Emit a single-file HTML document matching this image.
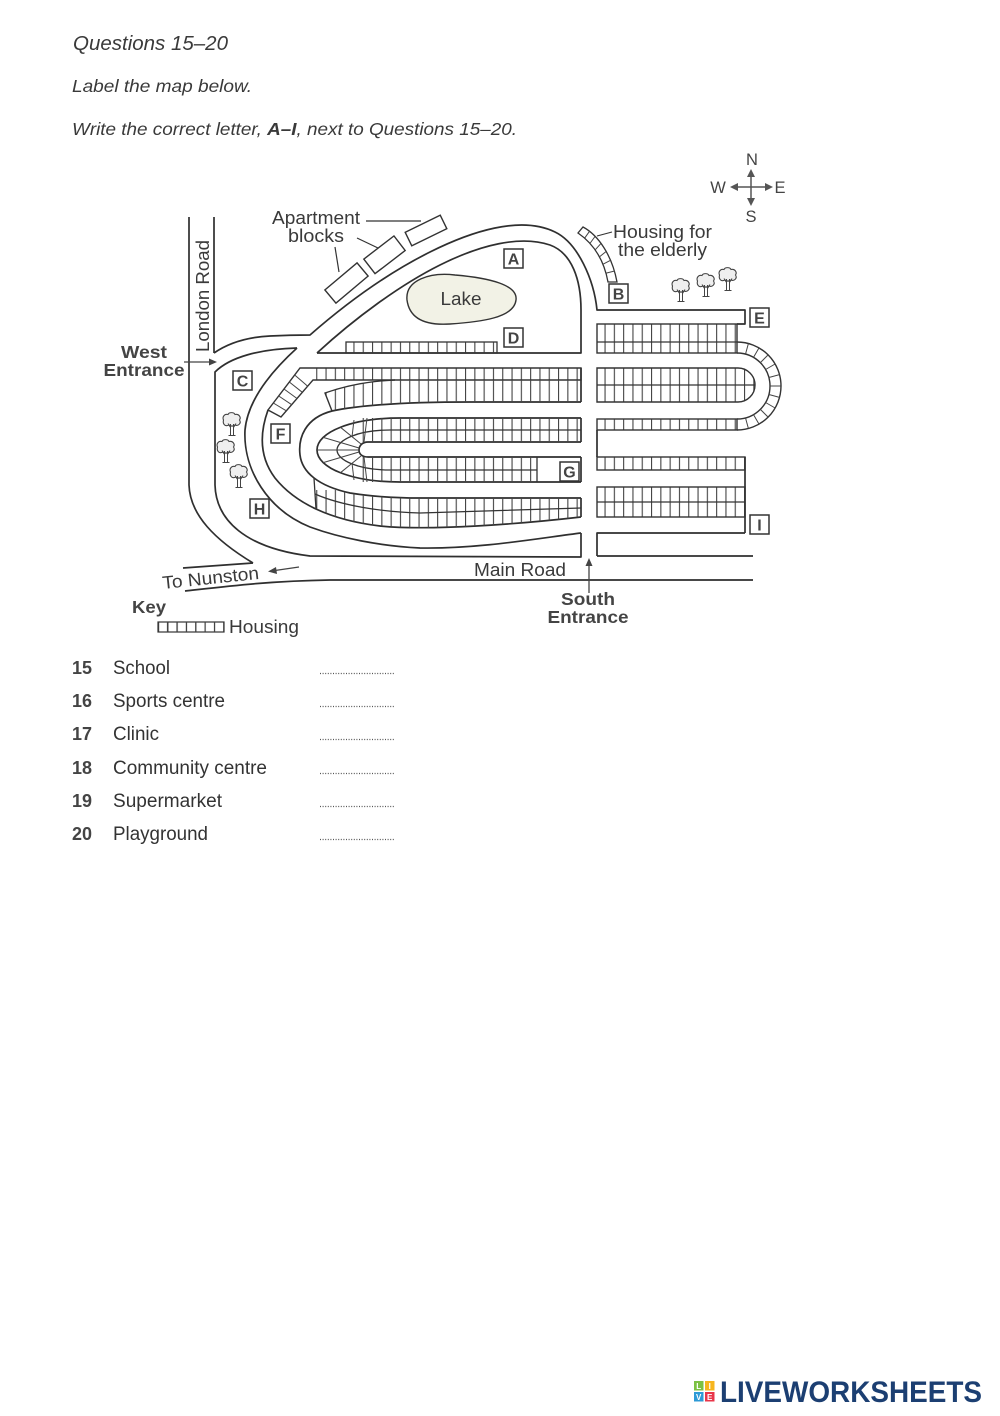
<!DOCTYPE html>
<html><head><meta charset="utf-8"><style>
html,body{margin:0;padding:0;background:#fff;}
svg{display:block;}
text{font-family:"Liberation Sans",Arial,sans-serif;}
</style></head><body>
<svg width="1000" height="1416" viewBox="0 0 1000 1416" xmlns="http://www.w3.org/2000/svg">
<defs>
 <pattern id="cv" patternUnits="userSpaceOnUse" width="9.3" height="40">
  <rect x="0" y="0" width="1.1" height="40" fill="#444"/>
 </pattern>
 <clipPath id="cB2"><path d="M581,380 L395,380 C370,381 345,386 325,393 L332,411 C365,404 420,402 470,402 L581,402 Z"/></clipPath>
 <clipPath id="cE"><path d="M581,498 L420,498 C400,498 375,497 350,493 C330,489 320,483 314,478 L316,509 C340,520 360,524 380,526 C430,531 520,524 581,517 Z"/></clipPath>
 <g id="tr">
  <path d="M-3,4 C-7,6 -9.5,3 -8.5,-1 C-10,-4 -7.5,-7.5 -4,-6.5 C-3,-9 2,-9 3,-6.5 C6.5,-7.5 9.5,-4 7.5,-1 C9.5,2 6.5,5.5 3,4 C1,5.5 -1,5.5 -3,4 Z" fill="#efefef" stroke="#444" stroke-width="1.1"/>
  <path d="M-1.5,3 V14 M1.5,3 V14 M-3.5,14.5 H3.5 M-1.5,6.5 L-4,2.5 M1.5,6.5 L4,2.5" fill="none" stroke="#444" stroke-width="1"/>
 </g>
</defs>

<!-- Header text -->
<text x="73" y="50" font-size="20" font-style="italic" fill="#3a3a3a" textLength="155" lengthAdjust="spacingAndGlyphs">Questions 15–20</text>
<text x="72" y="92" font-size="17.5" font-style="italic" fill="#3a3a3a" textLength="180" lengthAdjust="spacingAndGlyphs">Label the map below.</text>
<text x="72" y="135" font-size="17.5" font-style="italic" fill="#3a3a3a" textLength="445" lengthAdjust="spacingAndGlyphs">Write the correct letter, <tspan font-weight="bold">A–I</tspan>, next to Questions 15–20.</text>

<!-- Compass -->
<g stroke="#555" stroke-width="1.5">
 <line x1="735" y1="187" x2="768" y2="187"/>
 <line x1="751" y1="172" x2="751" y2="203"/>
</g>
<path d="M730,187 l8,-4 v8z M773,187 l-8,-4 v8z M751,169 l-4,8 h8z M751,206 l-4,-8 h8z" fill="#555"/>
<g font-size="16.5" fill="#444" text-anchor="middle">
 <text x="752" y="165">N</text>
 <text x="718" y="193">W</text>
 <text x="780" y="193">E</text>
 <text x="751" y="222">S</text>
</g>

<!-- Roads -->
<g fill="none" stroke="#2f2f2f" stroke-width="1.7" stroke-linejoin="round">
 <!-- London Road / west outer -->
 <path d="M189,217 L189,485 C190,515 215,540 253,563"/>
 <path d="M214,217 L214,353"/>
 <!-- west entrance upper + NW loop outer -->
 <path d="M214,353 C230,342 250,337 270,336 C290,335 300,335 310,335 C350,300 390,272 430,252 C470,232 520,215 555,232 C578,243 594,280 597,310 L745,310 L745,324 L737,324"/>
 <!-- NW loop inner + lake region -->
 <path d="M317,353 C355,318 400,285 440,265 C480,245 520,235 550,245 C572,253 581,280 581,310 L581,353 L317,353"/>
 <!-- west entrance lower + west inner + main road top -->
 <path d="M297,348 C260,349 230,357 215,372 L215,485 C216,520 245,548 310,556 L581,557 L581,533"/>
 <!-- K ring road outer -->
 <path d="M297,348 C275,368 248,398 245,430 C243,470 268,510 310,527 C340,538 380,546 420,548 C480,549 540,538 581,533"/>
 <!-- L housing block outer -->
 <path d="M268,410 C259,435 260,458 275,478 C295,503 330,520 380,526 C430,531 520,524 581,517"/>
 <!-- M oval road outer -->
 <path d="M581,402 L470,402 C420,402 365,404 332,411 C305,418 298,438 300,455 C302,472 318,486 350,493 C375,497 400,498 420,498 L581,498"/>
 <!-- N inner oval -->
 <path d="M581,418 L400,418 C352,418 317,432 317,450 C317,468 352,482 400,482 L581,482"/>
 <!-- center strip -->
 <path d="M581,442 L368,442 C362,442 359,446 359,450 C359,454 362,457 368,457 L581,457"/>
 <!-- south road left verticals -->
 <path d="M581,368 L581,402 M581,418 L581,442 M581,457 L581,482 M581,498 L581,517"/>
 <!-- Nunston & main bottom -->
 <path d="M183,568 L253,563"/>
 <path d="M185,591 C230,586 270,581 330,580 L753,580"/>
 <path d="M597,556 L753,556"/>
 <path d="M745,533 L597,533 L597,556"/>
 <path d="M745,457 L745,533"/>
 <path d="M597,430 L597,457"/>
</g>

<!-- Lake -->
<path d="M407,300 C405,280 430,272 455,275 C490,278 518,285 516,300 C514,318 480,322 450,324 C420,326 409,315 407,300 Z" fill="#f2f2e6" stroke="#333" stroke-width="1.4"/>
<text x="461" y="305" font-size="18" fill="#3a3a3a" text-anchor="middle" textLength="41" lengthAdjust="spacingAndGlyphs">Lake</text>

<!-- Apartment blocks -->
<g fill="#fff" stroke="#333" stroke-width="1.4">
 <rect x="-21" y="-8.6" width="42" height="17.2" transform="translate(346.5,283) rotate(-40)"/>
 <rect x="-19" y="-9.2" width="38" height="18.4" transform="translate(384.5,254.8) rotate(-37.5)"/>
 <rect x="-19.5" y="-7.5" width="39" height="15" transform="translate(426,230.5) rotate(-26)"/>
</g>
<g stroke="#333" stroke-width="1.2">
 <line x1="366" y1="221" x2="421" y2="221"/>
 <line x1="357" y1="238" x2="378" y2="248"/>
 <line x1="335" y1="247" x2="339" y2="272"/>
</g>
<text x="316" y="224" font-size="18" fill="#3a3a3a" text-anchor="middle" textLength="88" lengthAdjust="spacingAndGlyphs">Apartment</text>
<text x="316" y="242" font-size="18" fill="#3a3a3a" text-anchor="middle" textLength="56" lengthAdjust="spacingAndGlyphs">blocks</text>

<!-- London Road label -->
<text transform="translate(209,296) rotate(-90)" font-size="18" fill="#3a3a3a" text-anchor="middle" textLength="112" lengthAdjust="spacingAndGlyphs">London Road</text>

<!-- West entrance -->
<text x="144" y="358" font-size="17.5" font-weight="bold" fill="#444" text-anchor="middle" textLength="46" lengthAdjust="spacingAndGlyphs">West</text>
<text x="144" y="376" font-size="17.5" font-weight="bold" fill="#444" text-anchor="middle" textLength="81" lengthAdjust="spacingAndGlyphs">Entrance</text>
<line x1="184" y1="362" x2="210" y2="362" stroke="#444" stroke-width="1.3"/>
<path d="M217,362 l-8,-3.5 v7z" fill="#444"/>

<!-- Housing for the elderly -->
<path d="M583,227 C598,235 612,255 617,282 L608,282 C604,260 594,244 578,233 Z" fill="#fff" stroke="#333" stroke-width="1.3"/>
<g stroke="#444" stroke-width="1">
 <line x1="589.6" y1="231.2" x2="584.7" y2="238.1"/>
 <line x1="595" y1="236.5" x2="589.9" y2="243.5"/>
 <line x1="601" y1="243.4" x2="595.1" y2="249.9"/>
 <line x1="606.1" y1="251.5" x2="599.4" y2="256.9"/>
 <line x1="610.3" y1="260.4" x2="602.8" y2="264.3"/>
 <line x1="614.6" y1="271" x2="606.2" y2="273.1"/>
</g>
<line x1="597" y1="236" x2="612" y2="232" stroke="#333" stroke-width="1.1"/>
<text x="613" y="238" font-size="18" fill="#3a3a3a" textLength="99" lengthAdjust="spacingAndGlyphs">Housing for</text>
<text x="618" y="256" font-size="18" fill="#3a3a3a" textLength="89" lengthAdjust="spacingAndGlyphs">the elderly</text>

<!-- Trees -->
<use href="#tr" transform="translate(681,287)"/>
<use href="#tr" transform="translate(706,282)"/>
<use href="#tr" transform="translate(728,276)"/>
<use href="#tr" transform="translate(232,421)"/>
<use href="#tr" transform="translate(226,448)"/>
<use href="#tr" transform="translate(239,473)"/>

<!-- Lake-region housing row -->
<rect x="346" y="342" width="151" height="11" fill="url(#cv)" stroke="#333" stroke-width="1.3"/>

<!-- Central block: B1 + diagonal band -->
<rect x="313" y="368" width="268" height="12" fill="url(#cv)"/>
<path d="M300,368 L581,368 L581,380 L313,380 L281,417 L268,410 Z" fill="none" stroke="#333" stroke-width="1.4"/>
<g stroke="#444" stroke-width="1">
 <line x1="294.7" y1="375" x2="307.7" y2="386.2"/>
 <line x1="289.3" y1="382" x2="302.3" y2="392.3"/>
 <line x1="284" y1="389" x2="297" y2="398.5"/>
 <line x1="278.7" y1="396" x2="291.7" y2="404.7"/>
 <line x1="273.3" y1="403" x2="286.3" y2="410.8"/>
</g>
<!-- B2 -->
<rect x="320" y="378" width="262" height="36" fill="url(#cv)" clip-path="url(#cB2)"/>
<path d="M395,380 C370,381 345,386 325,393 L332,411" fill="none" stroke="#333" stroke-width="1.4"/>

<!-- Rows C, D -->
<rect x="362" y="418" width="219" height="24" fill="url(#cv)"/>
<rect x="362" y="457" width="175" height="25" fill="url(#cv)"/>
<g fill="none" stroke="#333" stroke-width="1.3">
 <path d="M581,430 L390,430 C358,430 337,440 337,450 C337,460 358,470 390,470 L537,470"/>
 <line x1="537" y1="457" x2="537" y2="482"/>
</g>
<g stroke="#444" stroke-width="1">
 <line x1="364" y1="442" x2="367" y2="418"/>
 <line x1="361" y1="444" x2="340.5" y2="427.3"/>
 <line x1="359" y1="448" x2="323.2" y2="437.4"/>
 <line x1="359" y1="450" x2="317" y2="450"/>
 <line x1="359" y1="452" x2="323.2" y2="462.6"/>
 <line x1="361" y1="456" x2="340.5" y2="472.7"/>
 <line x1="364" y1="457" x2="367" y2="482"/>
 <line x1="352" y1="437" x2="354" y2="420"/>
 <line x1="352" y1="463" x2="354" y2="480"/>
</g>

<!-- Row E -->
<rect x="300" y="490" width="281" height="45" fill="url(#cv)" clip-path="url(#cE)"/>
<g fill="none" stroke="#333" stroke-width="1.3">
 <path d="M314,478 L316,509"/>
 <path d="M315,494 C340,505 380,512 420,513 L581,508"/>
</g>

<!-- Right section -->
<rect x="597" y="324" width="140" height="29" fill="url(#cv)" stroke="#333" stroke-width="1.4"/>
<line x1="597" y1="342" x2="737" y2="342" stroke="#333" stroke-width="1.2"/>
<path d="M597,368 L738,368 A17,17 0 0 1 738,402 L597,402 Z" fill="url(#cv)" stroke="#333" stroke-width="1.4"/>
<line x1="597" y1="385" x2="755" y2="385" stroke="#333" stroke-width="1.2"/>
<rect x="597" y="419" width="140" height="11" fill="url(#cv)" stroke="#333" stroke-width="1.4"/>
<rect x="597" y="457" width="148" height="13" fill="url(#cv)" stroke="#333" stroke-width="1.4"/>
<rect x="597" y="487" width="148" height="30" fill="url(#cv)" stroke="#333" stroke-width="1.4"/>
<line x1="597" y1="502" x2="745" y2="502" stroke="#333" stroke-width="1.2"/>
<path d="M737,342 A44,44 0 0 1 737,430 M737,353 A33,33 0 0 1 737,419" fill="none" stroke="#333" stroke-width="1.4"/>
<g stroke="#444" stroke-width="1">
 <line x1="745.5" y1="354.1" x2="748.4" y2="343.5"/>
 <line x1="753.5" y1="357.4" x2="759" y2="347.9"/>
 <line x1="760.3" y1="362.7" x2="768.1" y2="354.9"/>
 <line x1="765.6" y1="369.5" x2="775.1" y2="364"/>
 <line x1="768.9" y1="377.5" x2="779.5" y2="374.6"/>
 <line x1="770" y1="386" x2="781" y2="386"/>
 <line x1="768.9" y1="394.5" x2="779.5" y2="397.4"/>
 <line x1="765.6" y1="402.5" x2="775.1" y2="408"/>
 <line x1="760.3" y1="409.3" x2="768.1" y2="417.1"/>
 <line x1="753.5" y1="414.6" x2="759" y2="424.1"/>
 <line x1="745.5" y1="417.9" x2="748.4" y2="428.5"/>
</g>

<!-- Letter boxes -->
<g fill="#fff" stroke="#333" stroke-width="1.5">
 <rect x="504" y="249" width="19" height="19"/>
 <rect x="609" y="284" width="19" height="19"/>
 <rect x="233" y="371" width="19" height="19"/>
 <rect x="504" y="328" width="19" height="19"/>
 <rect x="750" y="308" width="19" height="19"/>
 <rect x="271" y="424" width="19" height="19"/>
 <rect x="560" y="462" width="19" height="19"/>
 <rect x="250" y="499" width="19" height="19"/>
 <rect x="750" y="515" width="19" height="19"/>
</g>
<g font-size="16" font-weight="bold" fill="#444" text-anchor="middle">
 <text x="513.5" y="264.5">A</text>
 <text x="618.5" y="299.5">B</text>
 <text x="242.5" y="386.5">C</text>
 <text x="513.5" y="343.5">D</text>
 <text x="759.5" y="323.5">E</text>
 <text x="280.5" y="439.5">F</text>
 <text x="569.5" y="477.5">G</text>
 <text x="259.5" y="514.5">H</text>
 <text x="759.5" y="530.5">I</text>
</g>

<!-- Bottom labels -->
<text transform="translate(163,589) rotate(-6)" font-size="18" fill="#3a3a3a" textLength="97" lengthAdjust="spacingAndGlyphs">To Nunston</text>
<line x1="275" y1="570.5" x2="299" y2="567" stroke="#444" stroke-width="1.3"/>
<path d="M268,571.5 l8,-4.5 l1,7z" fill="#444"/>
<text x="474" y="576" font-size="18" fill="#3a3a3a" textLength="92" lengthAdjust="spacingAndGlyphs">Main Road</text>
<line x1="589" y1="566" x2="589" y2="593" stroke="#444" stroke-width="1.3"/>
<path d="M589,558 l-3.5,8 h7z" fill="#444"/>
<text x="588" y="605" font-size="17.5" font-weight="bold" fill="#444" text-anchor="middle" textLength="54" lengthAdjust="spacingAndGlyphs">South</text>
<text x="588" y="623" font-size="17.5" font-weight="bold" fill="#444" text-anchor="middle" textLength="81" lengthAdjust="spacingAndGlyphs">Entrance</text>

<!-- Key -->
<text x="132" y="613" font-size="17.5" font-weight="bold" fill="#444" textLength="34" lengthAdjust="spacingAndGlyphs">Key</text>
<rect x="158" y="622" width="66" height="10" fill="url(#cv)" stroke="#333" stroke-width="1.2"/>
<g stroke="#444" stroke-width="1">
 <line x1="167.4" y1="622" x2="167.4" y2="632"/><line x1="176.9" y1="622" x2="176.9" y2="632"/>
 <line x1="186.3" y1="622" x2="186.3" y2="632"/><line x1="195.7" y1="622" x2="195.7" y2="632"/>
 <line x1="205.1" y1="622" x2="205.1" y2="632"/><line x1="214.6" y1="622" x2="214.6" y2="632"/>
</g>
<text x="229" y="633" font-size="18" fill="#3a3a3a" textLength="70" lengthAdjust="spacingAndGlyphs">Housing</text>

<!-- Questions -->
<g font-size="18.5" font-weight="bold" fill="#444">
 <text x="72" y="674" textLength="20" lengthAdjust="spacingAndGlyphs">15</text>
 <text x="72" y="707" textLength="20" lengthAdjust="spacingAndGlyphs">16</text>
 <text x="72" y="740" textLength="20" lengthAdjust="spacingAndGlyphs">17</text>
 <text x="72" y="774" textLength="20" lengthAdjust="spacingAndGlyphs">18</text>
 <text x="72" y="807" textLength="20" lengthAdjust="spacingAndGlyphs">19</text>
 <text x="72" y="840" textLength="20" lengthAdjust="spacingAndGlyphs">20</text>
</g>
<g font-size="19" fill="#333">
 <text x="113" y="674" textLength="57" lengthAdjust="spacingAndGlyphs">School</text>
 <text x="113" y="707" textLength="112" lengthAdjust="spacingAndGlyphs">Sports centre</text>
 <text x="113" y="740" textLength="46" lengthAdjust="spacingAndGlyphs">Clinic</text>
 <text x="113" y="774" textLength="154" lengthAdjust="spacingAndGlyphs">Community centre</text>
 <text x="113" y="807" textLength="109" lengthAdjust="spacingAndGlyphs">Supermarket</text>
 <text x="113" y="840" textLength="95" lengthAdjust="spacingAndGlyphs">Playground</text>
</g>
<g stroke="#555" stroke-width="1.2" stroke-dasharray="1,1.6">
 <line x1="320" y1="673.5" x2="395" y2="673.5"/>
 <line x1="320" y1="706.5" x2="395" y2="706.5"/>
 <line x1="320" y1="739.5" x2="395" y2="739.5"/>
 <line x1="320" y1="773.5" x2="395" y2="773.5"/>
 <line x1="320" y1="806.5" x2="395" y2="806.5"/>
 <line x1="320" y1="839.5" x2="395" y2="839.5"/>
</g>

<!-- Logo -->
<rect x="694" y="1381" width="9.5" height="9.5" fill="#7cc143"/>
<rect x="705" y="1381" width="9.5" height="9.5" fill="#f6b51e"/>
<rect x="694" y="1392" width="9.5" height="9.5" fill="#2d9ad6"/>
<rect x="705" y="1392" width="9.5" height="9.5" fill="#e8364a"/>
<g font-size="8" font-weight="bold" fill="#fff" text-anchor="middle">
 <text x="698.7" y="1389">L</text><text x="709.7" y="1389">I</text>
 <text x="698.7" y="1400">V</text><text x="709.7" y="1400">E</text>
</g>
<text x="720" y="1402" font-size="30" font-weight="bold" fill="#1c3f72" textLength="262" lengthAdjust="spacingAndGlyphs">LIVEWORKSHEETS</text>
</svg>
</body></html>
